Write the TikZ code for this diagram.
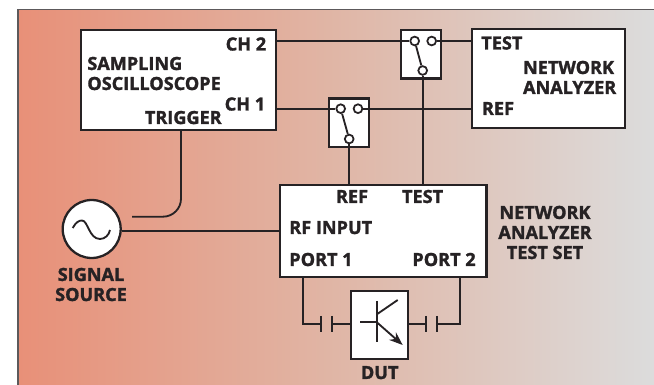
\documentclass[tikz,border=0pt]{standalone}
\usepackage{fontspec}
\setmainfont{Open Sans}[BoldFeatures={FakeBold=1.6}]
\usetikzlibrary{arrows.meta,positioning,calc}
\definecolor{bgleft}{RGB}{232,144,120}
\definecolor{bgmid}{RGB}{224,182,166}
\definecolor{bgright}{RGB}{220,220,220}
\definecolor{ink}{RGB}{38,34,36}

\begin{document}
\begin{tikzpicture}[
	x=0.02cm, y=-0.02cm,
	font=\fontsize{10.3pt}{11.4pt}\selectfont\bfseries,
	>=Stealth,
	box/.style={
		rectangle, draw=ink, fill=white,
		line width=1.3pt, inner sep=0pt
	},
	sw/.style={box, minimum width=0.8cm, minimum height=0.97cm},
	contact/.style={
		circle, draw=ink, fill=white,
		line width=1pt, minimum size=0.175cm, inner sep=0pt
	},
	lbl/.style={inner sep=0pt, text=ink},
	wire/.style={draw=ink, line width=1.05pt}
]

\useasboundingbox (0,0) rectangle (654,385);

% Background panel
\fill[left color=bgleft, right color=bgright, middle color=bgmid] (18,9.5) rectangle (654,385);
\draw[draw=ink!75, line width=0.7pt] (18,385) -- (18,9.5) -- (654,9.5);

% Instruments
\node[box, minimum width=3.9cm, minimum height=2.0cm]  (scope) at (178.5,80) {};
\node[box, minimum width=3.06cm, minimum height=1.98cm] (na)    at (548.5,78.5) {};
\node[box, minimum width=4.13cm, minimum height=1.84cm] (tset)  at (383.3,231) {};
\node[box, minimum width=1.15cm, minimum height=1.37cm] (dut)   at (379.4,325) {};
\node[box, circle, minimum size=1.16cm] (src) at (91.7,229) {};

% Switches
\node[sw] (swtest) at (421.3,54.3) {};
\node[sw] (swref)  at (349,122.8) {};

\node[contact] (ta) at (414.7,41) {};
\node[contact] (tb) at (431.7,41) {};
\node[contact] (tc) at (422.7,70.5) {};
\node[contact] (ra) at (340.7,108.7) {};
\node[contact] (rb) at (358,108.7) {};
\node[contact] (rc) at (349.2,139) {};

% Wiring
\draw[wire] (ta) -- (tc);
\draw[wire] (ra) -- (rc);
\draw[wire] (scope.east |- ta) -- (ta);
\draw[wire] (tb) -- (na.west |- tb);
\draw[wire] (scope.east |- ra) -- (ra);
\draw[wire] (rb) -- (na.west |- rb);
\draw[wire] (tc) -- (tc |- tset.north);
\draw[wire] (rc) -- (rc |- tset.north);

\coordinate (trigend) at (132,216.7);
\coordinate (trigtop) at (181,130);
\draw[wire, rounded corners=0.36cm] (trigtop) |- (trigend);
\coordinate (rfin) at (280,231);
\draw[wire] (src.east |- rfin) -- (rfin);

% Sine inside source
\draw[wire] (72.7,228) .. controls (76,222) and (79,220.5) .. (82,220.5)
	.. controls (88,220.5) and (89,239) .. (100,239)
	.. controls (105,239) and (109,235) .. (110,230);

% Coupling capacitors
\coordinate (pl1) at (302.7,277);
\coordinate (pl2) at (460,277);
\coordinate (ca1) at (321,324);
\coordinate (ca2) at (332,324);
\coordinate (cb1) at (426,324);
\coordinate (cb2) at (437.3,324);
\draw[wire] (pl1) |- (ca1);
\draw[wire] (ca2) -- (dut.west |- ca2);
\draw[wire] (dut.east |- cb1) -- (cb1);
\draw[wire] (cb2) -| (pl2);
\foreach \p in {ca1,ca2,cb1,cb2}
	\draw[wire] ($(\p)+(0,-8)$) -- ($(\p)+(0,8)$);

% Transistor
\coordinate (tbase) at (377.3,321.7);
\draw[wire] (360,321.7) -- (tbase);
\draw[wire] (377.3,301) -- (377.3,341.7);
\draw[wire] (377.3,314) -- (397.7,300);
\draw[wire, ->] (377.3,322.7) -- (402.7,345);

% Labels
\node[lbl, anchor=base east] (lch2) at (266.5,50.5) {CH 2};
\node[lbl, anchor=base east] (lch1) at (265.5,110.5) {CH 1};
\node[lbl, anchor=base west, align=left] (lscope) at (87,90) {SAMPLING\\OSCILLOSCOPE};
\node[lbl, anchor=base east] (ltrig) at (222,124) {TRIGGER};
\node[lbl, anchor=base west] (lntest) at (481,49.5) {TEST};
\node[lbl, anchor=base west] (lnref) at (481.7,115) {REF};
\node[lbl, anchor=base west, align=left] (lna) at (522.7,94) {NETWORK\\ANALYZER};
\node[lbl, anchor=base west] (lsref) at (335.7,203) {REF};
\node[lbl, anchor=base west] (lstest) at (401.7,203) {TEST};
\node[lbl, anchor=base west] (lrf) at (289,234) {RF INPUT};
\node[lbl, anchor=base west] (lp1) at (289,266) {PORT 1};
\node[lbl, anchor=base east] (lp2) at (476,266) {PORT 2};
\node[lbl, anchor=base, align=center] (lset) at (545,259) {NETWORK\\ANALYZER\\TEST SET};
\node[lbl, anchor=base, align=center] (lsrc) at (91,301) {SIGNAL\\SOURCE};
\node[lbl, anchor=base] (ldut) at (379.7,379) {DUT};

\end{tikzpicture}
\end{document}
